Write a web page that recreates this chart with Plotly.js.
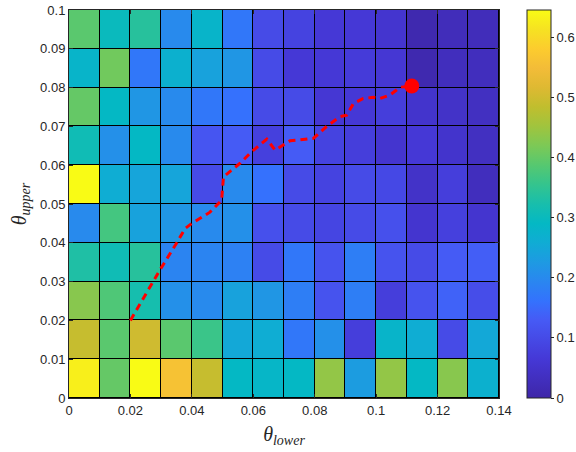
<!DOCTYPE html>
<html><head><meta charset="utf-8">
<script src="https://cdn.plot.ly/plotly-3.0.1.min.js"></script>
<style>body{margin:0;background:#fff}#c{width:576px;height:452px}</style>
</head><body><div id="c"></div>
<script>
// cell edges
const thetaLowerEdges = [0,0.01,0.02,0.03,0.04,0.05,0.06,0.07,0.08,0.09,0.10,0.11,0.12,0.13,0.14];
const thetaUpperEdges = [0,0.01,0.02,0.03,0.04,0.05,0.06,0.07,0.08,0.09,0.10];
// values, rows from theta_upper = 0 (bottom) to 0.09 (top)
const row0 = [0.63,0.40,0.645,0.56,0.49,0.29,0.285,0.29,0.44,0.23,0.44,0.29,0.43,0.27];
const row1 = [0.49,0.39,0.50,0.39,0.36,0.25,0.26,0.17,0.21,0.075,0.28,0.26,0.10,0.25];
const row2 = [0.43,0.38,0.32,0.21,0.20,0.24,0.22,0.18,0.115,0.18,0.075,0.115,0.14,0.105];
const row3 = [0.33,0.31,0.34,0.19,0.19,0.185,0.10,0.17,0.115,0.18,0.115,0.10,0.13,0.135];
const row4 = [0.20,0.37,0.24,0.22,0.20,0.21,0.11,0.10,0.09,0.10,0.11,0.055,0.08,0.055];
const row5 = [0.645,0.26,0.245,0.245,0.10,0.20,0.16,0.10,0.085,0.10,0.095,0.045,0.075,0.03];
const row6 = [0.31,0.21,0.29,0.20,0.12,0.13,0.08,0.13,0.085,0.075,0.055,0.065,0.05,0.035];
const row7 = [0.40,0.29,0.22,0.20,0.17,0.16,0.10,0.10,0.06,0.065,0.075,0.05,0.045,0.035];
const row8 = [0.28,0.41,0.17,0.27,0.24,0.22,0.10,0.065,0.065,0.07,0.06,0.01,0.03,0.03];
const row9 = [0.39,0.30,0.34,0.20,0.28,0.17,0.10,0.085,0.065,0.065,0.055,0.01,0.025,0.025];
// red path
const pathLower = [0.020,0.0296,0.035,0.0378,0.040,0.0459,0.0497,0.0503,0.0557,0.0595,0.0644,0.0671,0.072,0.0796,0.0839,0.0882,0.0904,0.0926,0.0958,0.0991,0.1013,0.1045,0.1078,0.1116];
const pathUpper = [0.020,0.033,0.0399,0.0437,0.045,0.0479,0.051,0.057,0.0605,0.0635,0.0667,0.0639,0.0663,0.0669,0.070,0.0725,0.0729,0.0759,0.0772,0.0775,0.0772,0.0781,0.0801,0.0804];
const endLower = [0.1116], endUpper = [0.0804];
const cbTicks = [0,0.1,0.2,0.3,0.4,0.5,0.6];

const parula = [
 [0.0,'rgb(62,38,168)'],[0.1,'rgb(69,56,214)'],[0.2,'rgb(70,90,245)'],[0.25,'rgb(52,114,253)'],
 [0.3,'rgb(42,134,240)'],[0.35,'rgb(30,154,226)'],[0.4,'rgb(16,172,212)'],[0.45,'rgb(4,184,196)'],
 [0.5,'rgb(24,190,172)'],[0.55,'rgb(52,196,142)'],[0.6,'rgb(86,200,112)'],[0.65,'rgb(124,201,86)'],
 [0.7,'rgb(160,196,62)'],[0.75,'rgb(192,190,46)'],[0.8,'rgb(222,185,50)'],[0.85,'rgb(243,188,56)'],
 [0.9,'rgb(252,204,46)'],[0.95,'rgb(246,226,34)'],[1.0,'rgb(249,251,21)']];

const z = [row0,row1,row2,row3,row4,row5,row6,row7,row8,row9];
const tickFont = {family:'Liberation Sans, Arial, sans-serif', size:13, color:'#262626'};
const data = [
 {type:'heatmap', x:thetaLowerEdges, y:thetaUpperEdges, z:z, colorscale:parula, zmin:0, zmax:0.645,
  xgap:1, ygap:1, hoverinfo:'skip',
  colorbar:{x:1.065, xanchor:'left', xref:'paper', y:0.5, yanchor:'middle', len:1, lenmode:'fraction',
   thickness:24, thicknessmode:'pixels', outlinecolor:'#262626', outlinewidth:1,
   tickvals:cbTicks, ticks:'outside', ticklen:3, tickcolor:'#262626', tickfont:tickFont, xpad:0, ypad:0}},
 {type:'scatter', mode:'lines', x:pathLower, y:pathUpper, line:{color:'rgb(255,0,0)', width:3, dash:'7px,5px'}, hoverinfo:'skip'},
 {type:'scatter', mode:'markers', x:endLower, y:endUpper, marker:{color:'rgb(255,0,0)', size:15}, hoverinfo:'skip'}
];
const layout = {
 width:576, height:452, margin:{l:69, r:77, t:10, b:54, autoexpand:false},
 paper_bgcolor:'#fff', plot_bgcolor:'#000', showlegend:false,
 xaxis:{range:[0,0.14], dtick:0.02, tick0:0, ticks:'inside', ticklen:4, tickcolor:'#262626',
  showline:true, linecolor:'#262626', linewidth:1, mirror:'ticks', showgrid:false, zeroline:false, tickfont:tickFont,
  title:{text:'<i>θ<sub>lower</sub></i>', font:{family:'Liberation Serif, Times New Roman, serif', size:20, color:'#262626'}, standoff:10}},
 yaxis:{range:[0,0.1], dtick:0.01, tick0:0, ticks:'inside', ticklen:4, tickcolor:'#262626',
  showline:true, linecolor:'#262626', linewidth:1, mirror:'ticks', showgrid:false, zeroline:false, tickfont:tickFont,
  title:{text:'<i>θ<sub>upper</sub></i>', font:{family:'Liberation Serif, Times New Roman, serif', size:20, color:'#262626'}, standoff:8}}
};
Plotly.newPlot('c', data, layout, {displayModeBar:false, staticPlot:true});
</script></body></html>
